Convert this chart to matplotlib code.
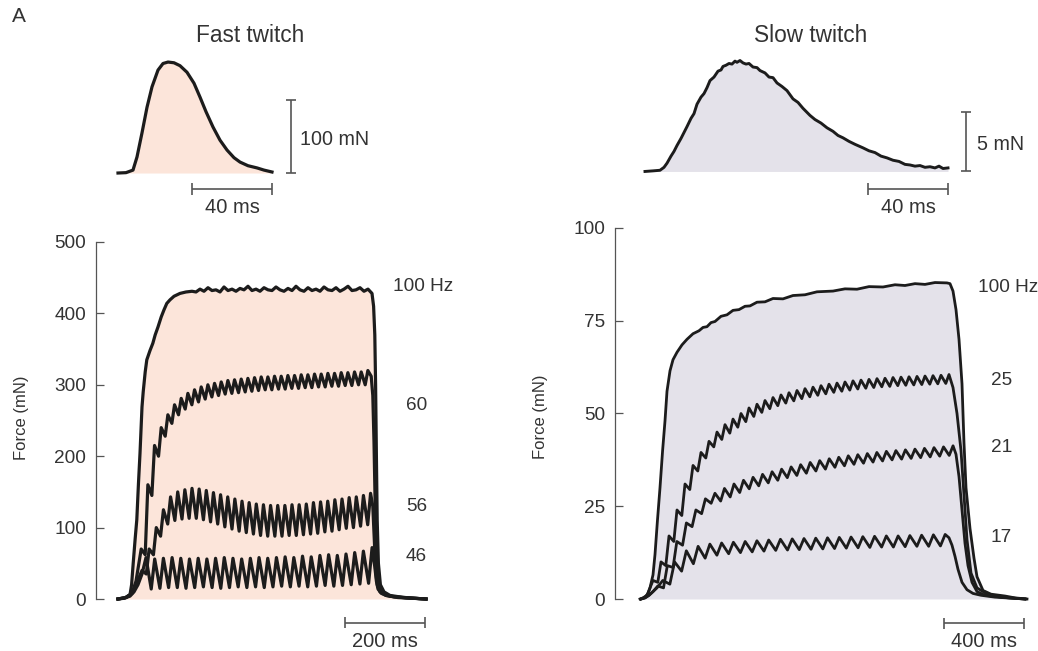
import numpy as np
import matplotlib
matplotlib.use("Agg")
import matplotlib.pyplot as plt

plt.rcParams['font.family'] = ['Liberation Sans', 'DejaVu Sans']

# ---- single twitches (t in ms, force in mN) ----
fast_tw_t = [0, 4, 7.5, 9.5, 12, 14.5, 17, 20, 22.5, 25, 28, 31, 34.5, 38, 41, 44,
             47.5, 51, 54.5, 58, 61, 65, 69.5, 73, 77]
fast_tw_f = [0, 0.5, 4, 22, 55, 90, 118, 141, 150, 152, 151, 147, 138, 123, 104, 84,
             63, 45, 31.5, 21, 15, 10, 7, 4, 1.4]

slow_tw_t = [0, 4, 7.5, 9.5, 11, 13, 14.5, 16, 18, 19.5, 21, 23, 24.5, 26, 28, 29.5,
             31, 32.5, 34.5, 36.5, 38, 39, 40.5, 42, 43.5, 45, 46, 47.5, 49, 50.5,
             52, 54, 56, 57.5, 60, 62, 64, 66, 68.5, 71, 74, 76.5, 79, 82.5, 85, 88,
             91, 94, 96.5, 99, 102, 105, 109, 112, 115, 118, 121, 124, 127, 130,
             132.5, 135, 137.5, 140, 142.5, 145, 147, 149, 151.5]
slow_tw_f = [0, 0.05, 0.1, 0.35, 0.7, 1.3, 1.7, 2.2, 2.8, 3.3, 3.8, 4.5, 4.9, 5.7, 6.3,
             6.6, 7.1, 7.7, 8.0, 8.5, 8.6, 8.9, 9.0, 9.15, 9.1, 9.35, 9.25, 9.4, 9.2,
             9.1, 9.15, 8.85, 8.8, 8.55, 8.35, 8.0, 7.95, 7.5, 7.2, 6.85, 6.15, 5.85,
             5.35, 4.75, 4.4, 4.1, 3.7, 3.4, 3.05, 2.85, 2.55, 2.3, 2.0, 1.75, 1.6,
             1.3, 1.15, 0.95, 0.85, 0.6, 0.55, 0.45, 0.5, 0.35, 0.4, 0.3, 0.45, 0.25,
             0.3]

# ---- fast muscle tetanus ----
# 100 Hz: rise, plateau sampled every 10 ms from 165 ms, and relaxation
f100_rise_t = [-30, -12, 0, 4, 8, 13, 17, 21, 25, 30, 33, 38, 42, 50, 57, 63, 70, 78,
               85, 92, 100, 110, 125, 140, 155]
f100_rise_f = [0, 2, 6, 20, 50, 85, 111, 160, 204, 269, 290, 318, 335, 348, 358, 370,
               381, 395, 405, 414, 419, 424, 428, 430, 431]
f100_plateau = [430, 434, 431, 436, 432, 433, 430, 437, 432, 434, 431, 435, 433, 438,
                432, 434, 431, 436, 433, 432, 437, 433, 431, 435, 432, 438, 433, 431,
                436, 432, 434, 431, 437, 433, 432, 436, 431, 434, 438, 432, 433, 436,
                431, 434]
f100_fall_t = [605, 609, 612, 614, 616, 618, 621, 626, 635, 650, 680, 710, 740]
f100_fall_f = [428, 410, 370, 300, 200, 110, 50, 20, 10, 5, 2.5, 1, 0]

# 60 Hz
f60_lead_t = [-30, -10, 5, 15]
f60_lead_f = [0, 2, 8, 25]
f60_peaks = [70, 160, 215, 240, 258, 272, 281, 288, 293, 297, 300, 302, 304, 306,
             307, 308, 309, 310, 311, 311, 312, 312, 313, 313, 314, 314, 315, 315,
             316, 316, 317, 317, 318, 318, 320]
f60_troughs = [62, 145, 200, 228, 246, 258, 266, 272, 276, 280, 283, 285, 287, 288,
               289, 290, 291, 292, 293, 293, 294, 294, 295, 295, 296, 296, 297, 297,
               298, 298, 299, 299, 300, 300]
f60_fall_t = [603, 607, 610, 613, 616, 621, 630, 650, 690, 740]
f60_fall_f = [312, 285, 220, 130, 60, 25, 10, 4, 1.5, 0]

# 56 Hz
f56_lead_t = [-30, -10, 5, 15]
f56_lead_f = [0, 2, 8, 20]
f56_peaks = [40, 70, 100, 125, 143, 150, 153, 155, 154, 152, 149, 146, 143, 140, 137,
             135, 133, 132, 131, 131, 131, 132, 132, 133, 135, 136, 137, 139, 140, 142,
             143, 145, 148]
f56_troughs = [35, 62, 88, 105, 110, 112, 113, 113, 111, 108, 105, 101, 98, 95, 93, 91,
               89, 88, 88, 88, 89, 89, 90, 91, 92, 94, 95, 97, 99, 100, 102, 104]
f56_fall_t = [607, 611, 614, 618, 625, 640, 670, 710, 740]
f56_fall_f = [130, 80, 40, 20, 10, 5, 2, 1, 0]

# 46 Hz
f46_lead_t = [-30, -15, 0, 10, 20, 30]
f46_lead_f = [0, 1, 4, 10, 20, 35]
f46_peaks = [58, 56, 57, 58, 57, 56, 57, 56, 57, 58, 57, 56, 57, 58, 57, 58, 59, 58,
             60, 59, 61, 62, 61, 63, 65, 67, 72]
f46_troughs = [14, 15, 16, 16, 15, 16, 17, 16, 15, 16, 17, 16, 17, 16, 17, 18, 17, 18,
               17, 18, 19, 18, 19, 20, 21, 22]
f46_fall_t = [612, 616, 620, 628, 640, 660, 700, 740]
f46_fall_f = [45, 25, 14, 8, 5, 3, 1.5, 0]

# ---- slow muscle tetanus ----
s100_t = [-25, -10, 10, 25, 40, 50, 62, 75, 88, 100, 110, 125, 140, 160, 185, 210,
          240, 270, 290, 310, 330, 350, 380, 410, 440, 470, 500, 525, 560, 600, 640,
          690, 740, 800, 860, 940, 1000, 1060, 1120, 1190, 1250, 1300, 1350, 1400,
          1450, 1510, 1525, 1540, 1555, 1570, 1585, 1595, 1605, 1625, 1645, 1660,
          1690, 1730, 1800, 1850, 1910]
s100_f = [0, 0.3, 1, 3, 6.5, 12, 21, 30, 40, 48, 56, 61.5, 64.5, 66.5, 68.5, 70, 71.5,
          72.3, 73.2, 73.4, 74.5, 74.8, 76.2, 76.6, 77.8, 78, 78.9, 79, 80, 80.1, 81,
          80.9, 81.8, 82, 82.8, 83, 83.6, 83.5, 84.2, 84.1, 84.7, 84.5, 85, 84.8, 85.3,
          85.2, 85, 83, 78, 70, 58, 42, 30, 19, 11, 6, 2.3, 1.3, 0.8, 0.3, 0]

s25_lead_t = [-20, 0, 15, 25]
s25_lead_f = [0, 0.5, 1.5, 3]
s25_peaks = [5, 10, 17, 24, 31, 36, 39.5, 42.5, 45, 47, 48.5, 50, 51.5, 52.5, 53.5,
             54.3, 55, 55.6, 56.2, 56.7, 57.1, 57.5, 57.9, 58.2, 58.5, 58.8, 59, 59.2,
             59.4, 59.5, 59.7, 59.8, 59.9, 60, 60.1, 60.2, 60.3, 60.5]
s25_troughs = [4.5, 9, 15.5, 22.5, 29.5, 34.5, 38, 41, 43, 44.7, 46.3, 47.8, 49.2, 50.3,
               51.3, 52.1, 52.8, 53.4, 54, 54.5, 54.9, 55.3, 55.7, 56, 56.3, 56.6, 56.8,
               57, 57.2, 57.3, 57.5, 57.6, 57.7, 57.8, 57.9, 58, 58.1]
s25_fall_t = [1540, 1560, 1580, 1595, 1610, 1630, 1660, 1720, 1800, 1900]
s25_fall_f = [57, 50, 40, 28, 16, 7, 3, 1, 0.4, 0]

s21_lead_t = [-20, 0, 20, 40]
s21_lead_f = [0, 0.3, 1, 2]
s21_peaks = [3.5, 9, 15.5, 20.5, 24, 27, 28.5, 29.8, 31, 32, 32.8, 33.6, 34.3, 35, 35.6,
             36.2, 36.8, 37.3, 37.8, 38.2, 38.6, 38.9, 39.2, 39.5, 39.8, 40, 40.2, 40.4,
             40.6, 40.8, 41, 41.3]
s21_troughs = [3, 8.5, 14.5, 19.5, 23, 25.8, 26.4, 27.5, 28.7, 29.7, 30.5, 31.3, 32,
               32.7, 33.3, 33.9, 34.5, 35, 35.5, 35.9, 36.3, 36.6, 36.9, 37.2, 37.5,
               37.7, 37.9, 38.1, 38.3, 38.5, 38.7]
s21_fall_t = [1555, 1570, 1585, 1600, 1615, 1635, 1660, 1700, 1800, 1900]
s21_fall_f = [39, 33, 24, 15, 9, 4.5, 2, 1, 0.4, 0]

s17_lead_t = [-20, 0, 20, 40, 60]
s17_lead_f = [0, 0.3, 1, 2, 3]
s17_peaks = [5, 10, 13, 14.2, 14.8, 15.1, 15.3, 15.5, 15.7, 15.9, 16.1, 16.2, 16.3,
             16.4, 16.5, 16.6, 16.7, 16.8, 16.9, 17, 17, 17.1, 17.2, 17.3, 17.4]
s17_troughs = [4, 7.5, 9.5, 11, 11.8, 12.2, 12.5, 12.7, 12.9, 13.1, 13.2, 13.3, 13.4,
               13.5, 13.6, 13.7, 13.8, 13.9, 14, 14, 14.1, 14.2, 14.2, 14.3]
s17_fall_t = [1520, 1535, 1550, 1565, 1585, 1610, 1640, 1680, 1750, 1900]
s17_fall_f = [16.5, 14.5, 11.5, 8, 4.5, 2.5, 1.5, 1, 0.5, 0]

fast_ticks = [0, 100, 200, 300, 400, 500]
slow_ticks = [0, 25, 50, 75, 100]

PINK = '#fce5da'
LAV = '#e4e2ea'
INK = '#1c1c1c'
TXT = '#333333'
GREY = '#555555'

W, H = 1038, 651
fig = plt.figure(figsize=(W / 100, H / 100), dpi=100)


def px_axes(x0, y0, x1, y1, xlim, ylim):
    # axes placed by pixel box of the reference picture
    ax = fig.add_axes([x0 / W, 1 - y1 / H, (x1 - x0) / W, (y1 - y0) / H])
    ax.set_xlim(*xlim)
    ax.set_ylim(*ylim)
    ax.patch.set_visible(False)
    for s in ax.spines.values():
        s.set_visible(False)
    ax.set_xticks([])
    ax.set_yticks([])
    return ax


def ripple(lead_t, lead_f, t_first, rate, peaks, troughs, tail_t, tail_f):
    # one peak per stimulus, trough just before the next one
    period = 1000.0 / rate
    t = list(lead_t)
    f = list(lead_f)
    for k, p in enumerate(peaks):
        tp = t_first + k * period
        t.append(tp)
        f.append(p)
        if k < len(troughs):
            t.append(tp + 0.6 * period)
            f.append(troughs[k])
    return np.array(t + list(tail_t)), np.array(f + list(tail_f))


def hbar(ax, x0, x1, y, cap):
    kw = dict(color=GREY, lw=1.2, clip_on=False, solid_capstyle='butt')
    ax.plot([x0, x1], [y, y], **kw)
    ax.plot([x0, x0], [y - cap, y + cap], **kw)
    ax.plot([x1, x1], [y - cap, y + cap], **kw)


def vbar(ax, x, y0, y1, cap):
    kw = dict(color=GREY, lw=1.2, clip_on=False, solid_capstyle='butt')
    ax.plot([x, x], [y0, y1], **kw)
    ax.plot([x - cap, x + cap], [y0, y0], **kw)
    ax.plot([x - cap, x + cap], [y1, y1], **kw)


def style_main(ax, ticks):
    ax.spines['left'].set_visible(True)
    ax.spines['left'].set_color(GREY)
    ax.spines['left'].set_linewidth(0.9)
    ax.set_yticks(ticks)
    ax.tick_params(axis='y', direction='in', length=6, width=0.9, color=GREY,
                   pad=7, labelsize=13.7, labelcolor=TXT)


# ---- fast twitch ----
ax = px_axes(100, 40, 380, 215, (-9, 131), (-57.5, 182.2))
ax.fill_between(fast_tw_t, fast_tw_f, 0, color=PINK, lw=0)
ax.plot(fast_tw_t, fast_tw_f, color=INK, lw=2.3, solid_joinstyle='round')
vbar(ax, 86.5, 0, 100, 2.5)
hbar(ax, 37, 77, -21.9, 8)
ax.text(91, 38.4, '100 mN', fontsize=14.2, color=TXT, ha='left', va='baseline')
ax.text(57, -54.8, '40 ms', fontsize=14.5, color=TXT, ha='center', va='baseline')

# ---- slow twitch ----
ax = px_axes(630, 40, 1030, 215, (-7.5, 192.5), (-3.69, 11.14))
ax.fill_between(slow_tw_t, slow_tw_f, 0, color=LAV, lw=0)
ax.plot(slow_tw_t, slow_tw_f, color=INK, lw=2.1, solid_joinstyle='round')
vbar(ax, 160.4, 0, 5, 2.5)
hbar(ax, 111.7, 151.7, -1.51, 0.5)
ax.text(166, 1.82, '5 mN', fontsize=14.2, color=TXT, ha='left', va='baseline')
ax.text(131.5, -3.52, '40 ms', fontsize=14.5, color=TXT, ha='center', va='baseline')

# ---- fast tetanus ----
ax = px_axes(96, 242, 440, 599, (-85, 775), (0, 500))
style_main(ax, fast_ticks)
plat_t = [165 + 10 * i for i in range(len(f100_plateau))]
t100 = np.array(f100_rise_t + plat_t + f100_fall_t)
v100 = np.array(f100_rise_f + f100_plateau + f100_fall_f)
ax.fill_between(t100, v100, 0, color=PINK, lw=0, zorder=0)
traces = [
    ripple(f46_lead_t, f46_lead_f, 40, 46, f46_peaks, f46_troughs, f46_fall_t, f46_fall_f),
    ripple(f56_lead_t, f56_lead_f, 30, 56, f56_peaks, f56_troughs, f56_fall_t, f56_fall_f),
    ripple(f60_lead_t, f60_lead_f, 28, 60, f60_peaks, f60_troughs, f60_fall_t, f60_fall_f),
    (t100, v100),
]
for t, v in traces:
    ax.plot(t, v, color=INK, lw=2.3, solid_joinstyle='round', clip_on=False)
hbar(ax, 537.5, 737.5, -33.6, 7.7)
ax.text(637.5, -67.2, '200 ms', fontsize=14.5, color=TXT, ha='center', va='baseline')
for txt, x, y in [('100 Hz', 657.5, 431.4), ('60', 690, 264.7), ('56', 690, 123.2),
                  ('46', 690, 53.2)]:
    ax.text(x, y, txt, fontsize=13.7, color=TXT, ha='left', va='baseline')

# ---- slow tetanus ----
ax = px_axes(615, 228, 1035, 599, (-150, 1950), (0, 100))
style_main(ax, slow_ticks)
ax.fill_between(s100_t, s100_f, 0, color=LAV, lw=0, zorder=0)
traces = [
    ripple(s17_lead_t, s17_lead_f, 89, 17, s17_peaks, s17_troughs, s17_fall_t, s17_fall_f),
    ripple(s21_lead_t, s21_lead_f, 64, 21, s21_peaks, s21_troughs, s21_fall_t, s21_fall_f),
    ripple(s25_lead_t, s25_lead_f, 40, 25, s25_peaks, s25_troughs, s25_fall_t, s25_fall_f),
    (np.array(s100_t), np.array(s100_f)),
]
for t, v in traces:
    ax.plot(t, v, color=INK, lw=2.0, solid_joinstyle='round', clip_on=False)
hbar(ax, 1495, 1895, -6.5, 1.5)
ax.text(1695, -12.9, '400 ms', fontsize=14.5, color=TXT, ha='center', va='baseline')
for txt, x, y in [('100 Hz', 1665, 82.7), ('25', 1730, 57.7), ('21', 1730, 39.6),
                  ('17', 1730, 15.4)]:
    ax.text(x, y, txt, fontsize=13.7, color=TXT, ha='left', va='baseline')

# ---- figure texts ----
fig.text(12 / W, 1 - 22 / H, 'A', fontsize=15, color=TXT, ha='left', va='baseline')
fig.text(250.5 / W, 1 - 42 / H, 'Fast twitch', fontsize=16.3, color=TXT,
         ha='center', va='baseline')
fig.text(811 / W, 1 - 42 / H, 'Slow twitch', fontsize=16.3, color=TXT,
         ha='center', va='baseline')
fig.text(22 / W, 1 - 418 / H, 'Force (mN)', fontsize=12, color=TXT, rotation=90,
         ha='center', va='center')
fig.text(541 / W, 1 - 417 / H, 'Force (mN)', fontsize=12, color=TXT, rotation=90,
         ha='center', va='center')

fig.savefig('out.png', dpi=100)
